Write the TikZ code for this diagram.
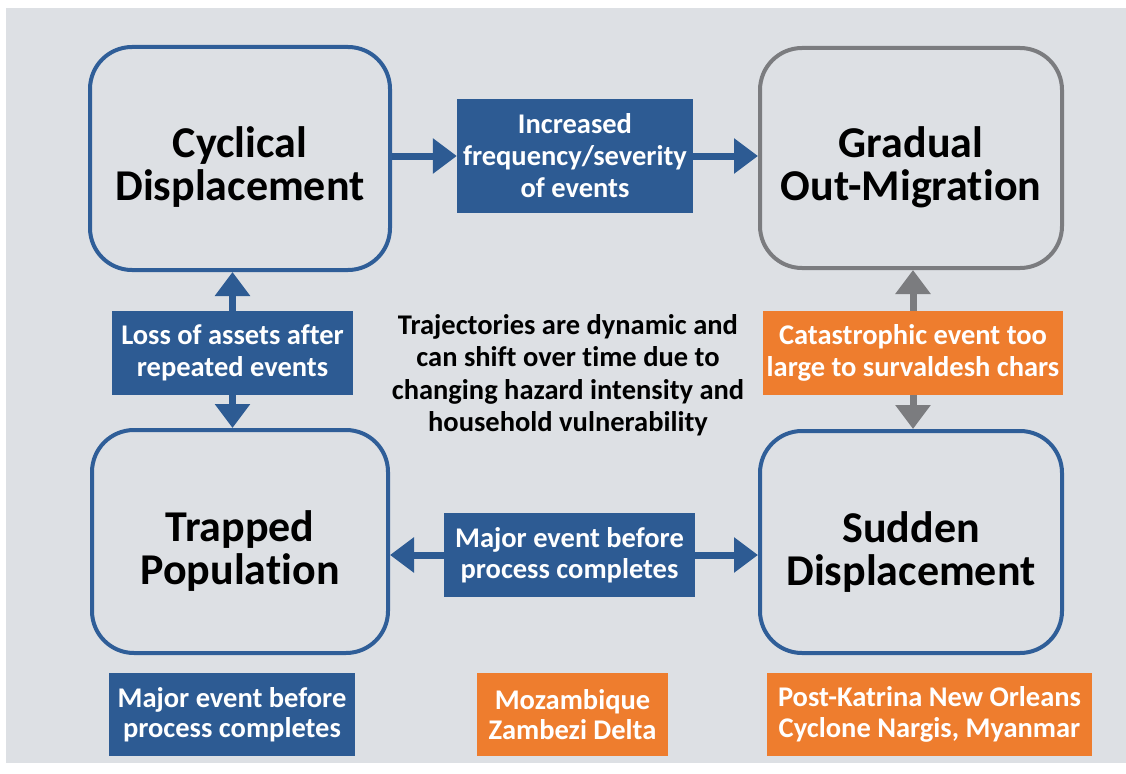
\documentclass[tikz,border=0pt]{standalone}
\usepackage{fontspec}
\setmainfont{Carlito}[Ligatures=NoCommon]
\usetikzlibrary{arrows.meta}
\definecolor{bg}{HTML}{DDE0E4}
\definecolor{bbord}{HTML}{2F5E98}
\definecolor{bfill}{HTML}{2D5B93}
\definecolor{ofill}{HTML}{EE7D2E}
\definecolor{gbord}{HTML}{7B7C7F}
\begin{document}
\begin{tikzpicture}[x=1pt,y=-1pt,
  state/.style={draw=bbord, line width=4pt, rounded corners=42pt, inner sep=0pt},
  title/.style={align=center, inner sep=0pt, text=black,
    font=\bfseries\fontsize{44}{43}\selectfont},
  label/.style={fill=bfill, text=white, align=center, inner sep=0pt,
    font=\bfseries\fontsize{28.5}{32}\selectfont},
  olabel/.style={label, fill=ofill},
  example/.style={font=\bfseries\fontsize{28.5}{30.5}\selectfont, minimum height=83pt},
  arr/.style={-{Triangle[width=34pt,length=24pt]}, line width=7pt, draw=bfill},
  garr/.style={arr, draw=gbord}
]
\useasboundingbox (0,0) rectangle (1126,773);
\fill[white] (0,0) rectangle (1126,773);
\fill[bg] (6,8) rectangle (1126,763);

% main states
\node[state, minimum width=300pt, minimum height=223pt] (cyc) at (240,158.5) {};
\node[state, draw=gbord, minimum width=302pt, minimum height=220pt] (grad) at (911,158) {};
\node[state, minimum width=296pt, minimum height=223pt] (trap) at (240,541.5) {};
\node[state, minimum width=302pt, minimum height=222pt] (sud) at (911,542) {};
\node[title] (cyct) at ([yshift=-9pt]cyc.center) {Cyclical\\Displacement};
\node[title] (gradt) at ([yshift=-9pt]grad.center) {Gradual\\Out-Migration};
\node[title] (trapt) at ([yshift=-10pt]trap.center) {Trapped\\Population};
\node[title] (sudt) at ([yshift=-10pt]sud.center) {Sudden\\Displacement};

% transition labels
\node[label, minimum width=236pt, minimum height=114pt] (inc) at (575,156) {Increased\\frequency/severity\\of events};
\node[label, minimum width=241pt, minimum height=84pt] (loss) at (232.5,353) {Loss of assets after\\repeated events};
\node[olabel, minimum width=300pt, minimum height=84pt] (cat) at (913,353) {Catastrophic event too\\large to survaldesh chars};
\node[label, font=\bfseries\fontsize{28.5}{31}\selectfont, minimum width=251pt, minimum height=84pt] (mid) at (569.5,555) {Major event before\\process completes};

% centre note
\node[align=center, inner sep=0pt, font=\bfseries\fontsize{28.5}{32.5}\selectfont] (note) at (568,375)
  {Trajectories are dynamic and\\can shift over time due to\\changing hazard intensity and\\household vulnerability};

% bottom examples
\node[label, example, minimum width=246pt] (b1) at (232,714.5) {Major event before\\process completes};
\node[olabel, example, minimum width=191pt] (b2) at (572.5,714.5) {Mozambique\\Zambezi Delta};
\node[olabel, example, minimum width=325pt] (b3) at (929.5,714.5) {Post-Katrina New Orleans\\Cyclone Nargis, Myanmar};

% connectors
\draw[arr] (cyc.east |- inc.west) -- (inc.west);
\draw[arr] (inc.east) -- (inc.east -| grad.west);
\draw[arr] (loss.north) -- (loss.north |- cyc.south);
\draw[arr] (loss.south) -- (loss.south |- trap.north);
\draw[garr] (cat.north) -- (cat.north |- grad.south);
\draw[garr] (cat.south) -- (cat.south |- sud.north);
\draw[arr] (mid.west) -- (mid.west -| trap.east);
\draw[arr] (mid.east) -- (mid.east -| sud.west);
\end{tikzpicture}
\end{document}
